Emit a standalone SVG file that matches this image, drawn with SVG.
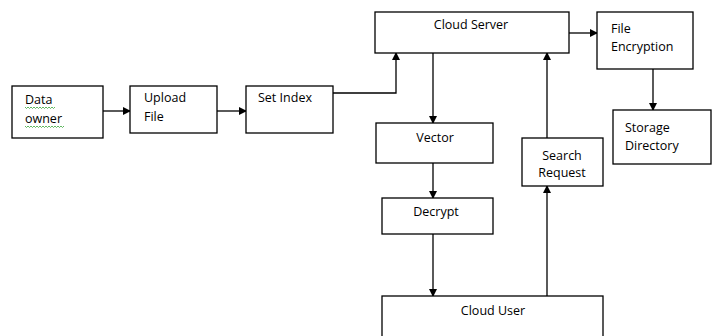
<svg xmlns="http://www.w3.org/2000/svg" width="716" height="336" viewBox="0 0 716 336">
<defs>
<marker id="ah" markerWidth="8" markerHeight="8" refX="7" refY="4" orient="auto" markerUnits="userSpaceOnUse">
<path d="M0,0 L8,4 L0,8 Z" fill="#000"/>
</marker>
<style>
rect{fill:#fff;stroke:#000;stroke-width:1.3}
text{font-family:"Open Sans","Liberation Sans",sans-serif;font-size:12.5px;fill:#000}
.c{text-anchor:middle}
.e{fill:none;stroke:#000;stroke-width:1.3;marker-end:url(#ah)}
.sq{fill:none;stroke:#3aa63a;stroke-width:0.8}
</style>
</defs>
<rect x="0" y="0" width="716" height="336" style="fill:#fff;stroke:none"/>
<g id="connectors">
<path class="e" d="M103,111 H130"/>
<path class="e" d="M217,111 H246"/>
<path class="e" d="M333,93 H396 V53"/>
<path class="e" d="M569,33 H597"/>
<path class="e" d="M433,53 V123"/>
<path class="e" d="M653,69 V110"/>
<path class="e" d="M433,163 V198"/>
<path class="e" d="M433,234 V296"/>
<path class="e" d="M547,296 V186"/>
<path class="e" d="M547,138 V53"/>
</g>
<g id="data-owner">
<rect x="12" y="86" width="91" height="52"/>
<text x="25" y="104">Data</text>
<text x="25" y="123">owner</text>
<path class="sq" d="M25,107 l1.5,1.5 l1.5,-1.5 l1.5,1.5 l1.5,-1.5 l1.5,1.5 l1.5,-1.5 l1.5,1.5 l1.5,-1.5 l1.5,1.5 l1.5,-1.5 l1.5,1.5 l1.5,-1.5 l1.5,1.5 l1.5,-1.5 l1.5,1.5 l1.5,-1.5 l1.5,1.5 l1.5,-1.5 l1.5,1.5 l1.5,-1.5"/>
<path class="sq" d="M25,126 l1.5,1.5 l1.5,-1.5 l1.5,1.5 l1.5,-1.5 l1.5,1.5 l1.5,-1.5 l1.5,1.5 l1.5,-1.5 l1.5,1.5 l1.5,-1.5 l1.5,1.5 l1.5,-1.5 l1.5,1.5 l1.5,-1.5 l1.5,1.5 l1.5,-1.5 l1.5,1.5 l1.5,-1.5 l1.5,1.5 l1.5,-1.5 l1.5,1.5 l1.5,-1.5 l1.5,1.5 l1.5,-1.5 l1.5,1.5 l1.5,-1.5"/>
</g>
<g id="upload-file">
<rect x="130" y="86" width="87" height="47"/>
<text x="144" y="102">Upload</text>
<text x="144" y="121">File</text>
</g>
<g id="set-index">
<rect x="246" y="86" width="87" height="47"/>
<text x="258" y="102">Set Index</text>
</g>
<g id="cloud-server">
<rect x="375" y="12" width="194" height="41"/>
<text class="c" x="471" y="29">Cloud Server</text>
</g>
<g id="file-encryption">
<rect x="597" y="12" width="96" height="57"/>
<text x="611" y="33">File</text>
<text x="611" y="51">Encryption</text>
</g>
<g id="storage-directory">
<rect x="613" y="110" width="98" height="54"/>
<text x="625" y="132">Storage</text>
<text x="625" y="150">Directory</text>
</g>
<g id="vector">
<rect x="376" y="123" width="117" height="40"/>
<text class="c" x="435" y="142">Vector</text>
</g>
<g id="search-request">
<rect x="522" y="138" width="81" height="48"/>
<text class="c" x="562" y="160">Search</text>
<text class="c" x="562" y="177">Request</text>
</g>
<g id="decrypt">
<rect x="382" y="198" width="111" height="36"/>
<text class="c" x="436" y="216">Decrypt</text>
</g>
<g id="cloud-user">
<rect x="382" y="296" width="221" height="50"/>
<text class="c" x="493" y="315">Cloud User</text>
</g>
</svg>
